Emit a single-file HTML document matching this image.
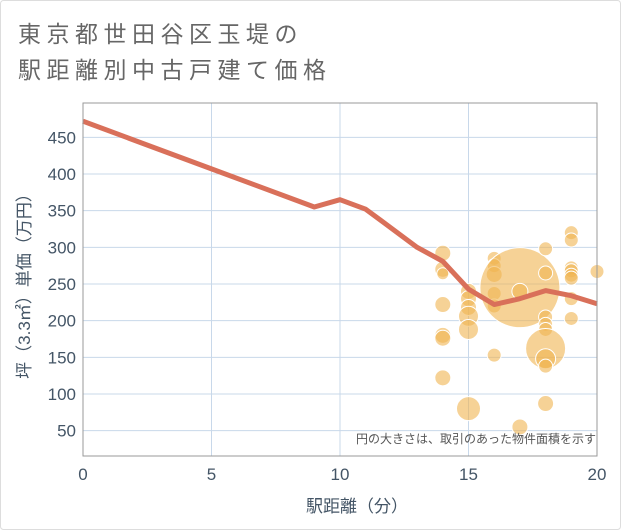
<!DOCTYPE html>
<html><head><meta charset="utf-8"><style>
body{margin:0;background:#fff;}
svg{display:block;font-family:"Liberation Sans","Noto Sans CJK JP",sans-serif;}
</style></head><body>
<svg id="chart" width="621" height="530">
<rect x="0.5" y="0.5" width="620" height="529" fill="#fff" stroke="#ddd" stroke-width="1" rx="3"/>
<text x="18" y="42" font-size="23" fill="#666" letter-spacing="5.5">東京都世田谷区玉堤の</text>
<text x="18" y="78" font-size="23" fill="#666" letter-spacing="5.5">駅距離別中古戸建て価格</text>
<g id="grid"></g>
<g id="bubbles"></g>
<g id="line"></g>
<g id="axes"></g>
<text x="596" y="443" font-size="12" fill="#555" text-anchor="end">円の大きさは、取引のあった物件面積を示す</text>
<text x="357" y="512" font-size="17" fill="#445566" text-anchor="middle">駅距離（分）</text>
<text transform="translate(30,282) rotate(-90)" font-size="17" fill="#445566" text-anchor="middle">坪（3.3㎡）単価（万円）</text>
</svg>
<script>
const xTicks=[0,5,10,15,20];
const yTicks=[50,100,150,200,250,300,350,400,450];
const lineX=[0,5,9,10,11,12,13,14,15,16,17,18,19,20];
const lineY=[472,407,355,365,352,326,300,281,243,222,230,241,234,223];
const bubX=[14,14,14,14,14,14,14,15,15,15,15,15,15,16,16,16,16,16,16,17,17,17,18,18,18,18,18,18,18,18,18,19,19,19,19,19,19,19,19,20];
const bubY=[292,270,264,222,180,176,122,240,230,218,206,188,80,285,275,263,237,220,153,245,240,55,298,265,205,195,188,162,148,138,87,320,310,272,268,262,258,230,203,267];
const bubR=[8,8,6,8,8,8,8,8,8,8,10,10,12,7,7,8,7,7,7,40,8,8,7,7,7,7,7,20,10,7,8,7,7,7,7,7,7,7,7,7];
const L=83,R=597,T=103,B=456;
const xs=v=>L+v*(R-L)/20;
const ys=v=>174+(400-v)*0.7333;
const NS="http://www.w3.org/2000/svg";
function mk(t,a,p){const e=document.createElementNS(NS,t);for(const k in a)e.setAttribute(k,a[k]);p.appendChild(e);return e;}
const grid=document.getElementById('grid');
for(const t of yTicks){
 const l=mk('line',{x1:L,x2:R,y1:ys(t),y2:ys(t),stroke:'#c8d8ea','stroke-width':1},grid);
 
 
 const tx=mk('text',{x:L-7,y:ys(t)+6,'font-size':17,fill:'#445566','text-anchor':'end'},grid);
 tx.textContent=t;
 
 
}
for(const t of xTicks){
 const l=mk('line',{x1:xs(t),x2:xs(t),y1:T,y2:B,stroke:'#c8d8ea','stroke-width':1},grid);
 
 
 const tx=mk('text',{x:xs(t),y:B+24,'font-size':17,fill:'#445566','text-anchor':'middle'},grid);
 tx.textContent=t;
 
 
}
const bub=document.getElementById('bubbles');
bubX.forEach((x,i)=>{
 const c=mk('circle',{cx:xs(x),cy:ys(bubY[i]),r:bubR[i],fill:'rgba(240,180,80,0.6)',stroke:'#fff','stroke-width':1},bub);
 
 
});
const lg=document.getElementById('line');
const p=mk('polyline',{points:lineX.map((x,i)=>xs(x)+','+ys(lineY[i])).join(' '),fill:'none',stroke:'#d9705a','stroke-width':5,'stroke-linejoin':'round'},lg);


const ax=document.getElementById('axes');
const f=mk('rect',{x:L,y:T,width:R-L,height:B-T,fill:'none',stroke:'#999','stroke-width':1},ax);


</script>
</body></html>
